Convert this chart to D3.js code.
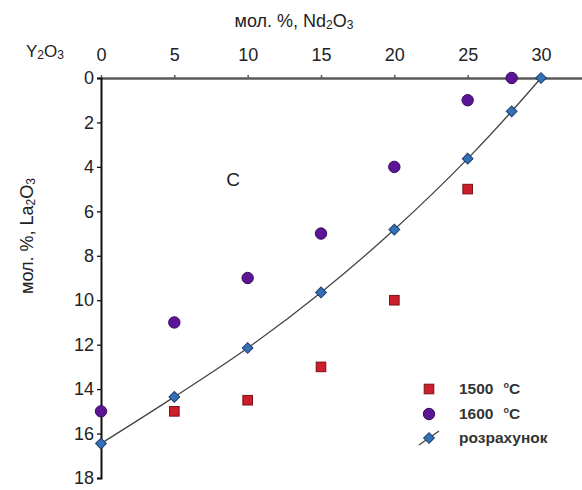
<!DOCTYPE html>
<html>
<head>
<meta charset="utf-8">
<script src="https://cdn.jsdelivr.net/npm/d3@7"></script>
<style>
  html, body { margin: 0; padding: 0; background: #fff; }
  svg { display: block; font-family: "Liberation Sans", Arial, sans-serif; }
</style>
</head>
<body>
<svg id="chart" width="582" height="490"></svg>
<script>
// Nd2O3 content (top axis, mol. %) vs La2O3 content (left axis, mol. %)
const nd1500 = [5, 10, 15, 20, 25];
const la1500 = [15, 14.5, 13, 10, 5];

const nd1600 = [0, 5, 10, 15, 20, 25, 28];
const la1600 = [15, 11, 9, 7, 4, 1, 0];

const ndCalc = [0, 5, 10, 15, 20, 25, 28, 30];
const laCalc = [16.45, 14.35, 12.15, 9.65, 6.82, 3.63, 1.5, 0];

const xTicks = [0, 5, 10, 15, 20, 25, 30];
const yTicks = [0, 2, 4, 6, 8, 10, 12, 14, 16, 18];

const legendLabels = ["1500", "1600", "розрахунок"];

const svg = d3.select("#chart");

const x = d3.scaleLinear().domain([0, 33]).range([101, 585]);
const y = d3.scaleLinear().domain([0, 18]).range([78, 478]);

// Top axis (Nd2O3)
const gx = svg.append("g")
  .attr("transform", `translate(0,${y(0)})`)
  .call(d3.axisTop(x).tickValues(xTicks).tickSize(3).tickSizeOuter(0).tickPadding(14));
gx.select(".domain").attr("stroke", "#5a5a5a").attr("stroke-width", 2.6);
gx.selectAll(".tick line").attr("stroke", "#5a5a5a").attr("stroke-width", 1.5);
gx.selectAll(".tick text")
  .attr("font-size", 18).attr("fill", "#222")
  .attr("font-family", "'Liberation Sans', Arial, sans-serif");

// Left axis (La2O3)
const gy = svg.append("g")
  .attr("transform", `translate(${x(0)},0)`)
  .call(d3.axisLeft(y).tickValues(yTicks).tickSize(4).tickSizeOuter(4).tickPadding(3));
gy.select(".domain").attr("stroke", "#111").attr("stroke-width", 2);
gy.selectAll(".tick line").attr("stroke", "#111").attr("stroke-width", 1.3);
gy.selectAll(".tick text")
  .attr("font-size", 18).attr("fill", "#222")
  .attr("font-family", "'Liberation Sans', Arial, sans-serif");

// Axis titles
const topTitle = svg.append("text")
  .attr("x", 294).attr("y", 27)
  .attr("text-anchor", "middle").attr("font-size", 18).attr("fill", "#222");
topTitle.append("tspan").text("мол. %, Nd");
topTitle.append("tspan").attr("font-size", 12).attr("dy", 2).text("2");
topTitle.append("tspan").attr("dy", -2).text("O");
topTitle.append("tspan").attr("font-size", 12).attr("dy", 2).text("3");

const yLab = svg.append("text")
  .attr("x", 26).attr("y", 57)
  .attr("font-size", 17).attr("fill", "#222");
yLab.append("tspan").text("Y");
yLab.append("tspan").attr("font-size", 12).attr("dy", 2).text("2");
yLab.append("tspan").attr("dy", -2).text("O");
yLab.append("tspan").attr("font-size", 12).attr("dy", 2).text("3");

const leftTitle = svg.append("text")
  .attr("transform", "translate(33,236) rotate(-90)")
  .attr("text-anchor", "middle").attr("font-size", 18).attr("fill", "#222");
leftTitle.append("tspan").text("мол. %, La");
leftTitle.append("tspan").attr("font-size", 12).attr("dy", 2).text("2");
leftTitle.append("tspan").attr("dy", -2).text("O");
leftTitle.append("tspan").attr("font-size", 12).attr("dy", 2).text("3");

svg.append("text")
  .attr("x", 233).attr("y", 186)
  .attr("text-anchor", "middle").attr("font-size", 19).attr("fill", "#222")
  .text("C");

// Calculated curve
const calcPts = ndCalc.map((d, i) => [d, laCalc[i]]);
svg.append("path")
  .datum(calcPts)
  .attr("fill", "none").attr("stroke", "#444").attr("stroke-width", 1.3)
  .attr("d", d3.line().x(d => x(d[0])).y(d => y(d[1])).curve(d3.curveMonotoneX));

// Marker painters
const drawSquare = (g, cx, cy) => g.append("rect")
  .attr("x", cx - 4.8).attr("y", cy - 4.8).attr("width", 9.6).attr("height", 9.6)
  .attr("fill", "#cc1f2b").attr("stroke", "#7a1018").attr("stroke-width", 1);
const drawCircle = (g, cx, cy) => g.append("circle")
  .attr("cx", cx).attr("cy", cy).attr("r", 5.7)
  .attr("fill", "#5c1596").attr("stroke", "#360a5c").attr("stroke-width", 1);
const drawDiamond = (g, cx, cy) => g.append("rect")
  .attr("x", -3.8).attr("y", -3.8).attr("width", 7.6).attr("height", 7.6)
  .attr("transform", `translate(${cx},${cy}) rotate(45)`)
  .attr("fill", "#3470b4").attr("stroke", "#1c3f70").attr("stroke-width", 1);

const marks = svg.append("g");
nd1500.forEach((d, i) => drawSquare(marks, x(d), y(la1500[i])));
nd1600.forEach((d, i) => drawCircle(marks, x(d), y(la1600[i])));
ndCalc.forEach((d, i) => drawDiamond(marks, x(d), y(laCalc[i])));

// Legend
const lg = svg.append("g");
const lx = 429, ly = [389, 414, 438], tx = 459;
drawSquare(lg, lx, ly[0]);
drawCircle(lg, lx, ly[1]);
lg.append("line").attr("x1", lx - 10).attr("y1", ly[2] + 7).attr("x2", lx + 10).attr("y2", ly[2] - 7)
  .attr("stroke", "#444").attr("stroke-width", 1.3);
drawDiamond(lg, lx, ly[2]);

legendLabels.forEach((t, i) => {
  const txt = lg.append("text").attr("x", tx).attr("y", ly[i] + 5)
    .attr("font-size", 15.5).attr("font-weight", "bold").attr("fill", "#333");
  txt.append("tspan").text(t);
  if (i < 2) {
    txt.append("tspan").attr("dx", 10).attr("font-size", 9).attr("dy", -6).text("o");
    txt.append("tspan").attr("dy", 6).text("C");
  }
});
</script>
</body>
</html>
